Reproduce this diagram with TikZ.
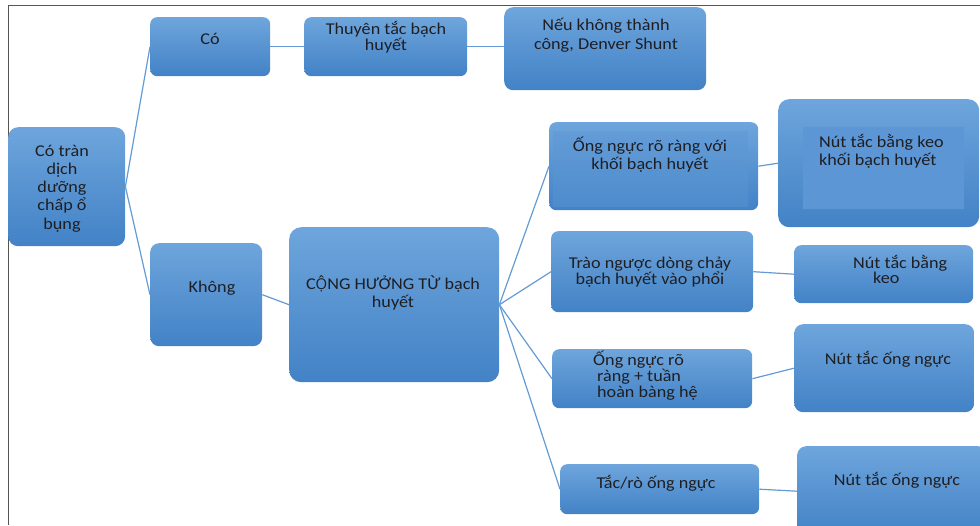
\documentclass[tikz,border=0pt]{standalone}
\usepackage{fontspec}
\setmainfont{Carlito}[FakeStretch=1.1]
\newfontfamily\altfont{Open Sans}[Scale=0.9]
\definecolor{boxtop}{RGB}{110,165,220}
\definecolor{boxbot}{RGB}{66,130,198}
\definecolor{innerc}{RGB}{92,150,212}
\definecolor{linec}{RGB}{100,155,212}
\definecolor{textc}{RGB}{30,30,35}
\definecolor{framec}{RGB}{85,85,85}
\begin{document}
\begin{tikzpicture}[x=1pt,y=-1pt,
  box/.style={rectangle, rounded corners=7pt, top color=boxtop, bottom color=boxbot, draw=none, inner sep=0pt, anchor=north west},
  txt/.style={text=textc, inner sep=0pt, align=center, font=\fontsize{16.5}{18.3}\selectfont},
  link/.style={draw=linec, line width=1.2pt}]
\useasboundingbox (0,0) rectangle (980,525);
\draw[framec, line width=1.6pt] (8.5,525) -- (8.5,5.5) -- (980,5.5);

% boxes
\node[box, rounded corners=10pt, minimum width=117pt, minimum height=119pt] (root) at (8,127) {};
\node[box, minimum width=120pt, minimum height=59pt] (co) at (150,17) {};
\node[box, minimum width=163pt, minimum height=59pt] (thuyen) at (304,17) {};
\node[box, rounded corners=9pt, minimum width=202pt, minimum height=83pt] (neu) at (504,7) {};
\node[box, rounded corners=9pt, minimum width=112pt, minimum height=103pt] (khong) at (150,243) {};
\node[box, rounded corners=12pt, minimum width=210pt, minimum height=155pt] (cong) at (289,227) {};
\node[box, minimum width=209pt, minimum height=88pt] (ong1) at (549,122) {};
\node[box, rounded corners=11pt, minimum width=201pt, minimum height=128pt] (nutkk) at (778,99) {};
\node[box, minimum width=202pt, minimum height=81pt] (trao) at (551,231) {};
\node[box, minimum width=179pt, minimum height=58pt] (nutk) at (794,245) {};
\node[box, minimum width=200pt, minimum height=59pt] (ong2) at (552,349) {};
\node[box, rounded corners=9pt, minimum width=180pt, minimum height=88pt] (nuto1) at (794,324) {};
\node[box, minimum width=199pt, minimum height=50pt] (tac) at (560,464) {};
\node[box, rounded corners=9pt, minimum width=190pt, minimum height=90pt] (nuto2) at (797,446) {};

% inner flat panels
\fill[innerc, opacity=0.45] (553,131) rectangle (748,207);
\fill[innerc] (803,127) rectangle (964,209);

% connectors
\draw[link] (root.east) -- (co.west);
\draw[link] (root.east) -- (khong.west);
\draw[link] (co.east) -- (thuyen.west);
\draw[link] (thuyen.east) -- (thuyen.east -| neu.west);
\draw[link] (khong.east) -- (cong.west);
\draw[link] (cong.east) -- (ong1.west);
\draw[link] (cong.east) -- (trao.west);
\draw[link] (cong.east) -- (ong2.west);
\draw[link] (cong.east) -- (tac.west);
\draw[link] (ong1.east) -- (nutkk.west);
\draw[link] (trao.east) -- (nutk.west);
\draw[link] (ong2.east) -- (nuto1.west);
\draw[link] (tac.east) -- (nuto2.west);

% texts
\node[txt] (troot) at (62,188.4) {Có tràn\\dịch\\dưỡng\\chấp ổ\\bụng};
\node[txt, anchor=base] (tco) at (210,44) {Có};
\node[txt, font=\fontsize{16.5}{14.5}\selectfont] (tthuyen) at (386,37.5) {Thuyên tắc bạch\\huyết};
\node[txt, font=\fontsize{16.5}{19}\selectfont] (tneu) at (606,35) {Nếu không thành\\công, Denver Shunt};
\node[txt, anchor=base] (tkhong) at (212,292) {Không};
\node[txt] (tcong) at (393,293) {C{\altfont Ộ}NG HƯỞNG TỪ bạch\\huyết};
\node[txt, font=\fontsize{16.5}{18}\selectfont] (tong1) at (650,155) {Ống ngực rõ ràng với\\khối bạch huyết};
\node[txt, anchor=west, align=left] (tnutkk) at (819,151.5) {Nút tắc bằng keo\\khối bạch huyết};
\node[txt, font=\fontsize{16.5}{15}\selectfont] (ttrao) at (650,272) {Trào ngược dòng chảy\\bạch huyết vào phổi};
\node[txt, anchor=west, align=left, font=\fontsize{16.5}{15}\selectfont] (tnutk) at (853,269.3) {Nút tắc bằng\\\hspace*{20pt}keo};
\node[txt, anchor=west, align=left, font=\fontsize{16.5}{16.3}\selectfont] (tong2) at (593,375.8) {Ống ngực rõ\\\hspace*{4pt}ràng + tuần\\\hspace*{4pt}hoàn bàng hệ};
\node[txt, anchor=base] (tnuto1) at (888,364.3) {Nút tắc ống ngực};
\node[txt, anchor=base] (ttac) at (656,488.7) {Tắc/rò ống ngực};
\node[txt, anchor=base] (tnuto2) at (897,485) {Nút tắc ống ngực};
\end{tikzpicture}
\end{document}
